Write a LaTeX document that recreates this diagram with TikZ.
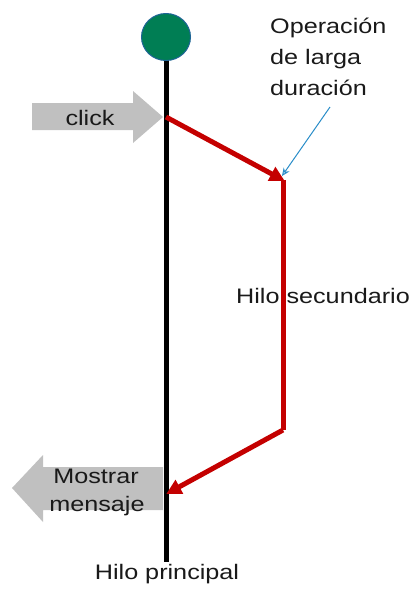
\documentclass[tikz,border=0pt]{standalone}
\usepackage{fontspec}
\setmainfont{Liberation Sans}[FakeStretch=1.2]
\usetikzlibrary{arrows.meta,shapes.geometric}
\definecolor{threadred}{RGB}{196,0,0}
\definecolor{btngray}{RGB}{192,192,192}
\definecolor{startgreen}{RGB}{0,126,84}
\definecolor{startedge}{RGB}{30,100,150}
\definecolor{noteblue}{RGB}{40,140,200}
\definecolor{txt}{RGB}{25,25,25}
\tikzset{
  lbl/.style={inner sep=0pt, text=txt, font=\fontsize{21}{31}\selectfont},
  mainline/.style={line width=5pt, black},
  redline/.style={line width=5pt, threadred},
  redarrow/.style={redline, -{Triangle[length=15pt,width=15pt]}, shorten >=-2pt},
  event/.style={fill=btngray, draw=none},
}
\begin{document}
\begin{tikzpicture}[x=1pt,y=-1pt]
\useasboundingbox (0,0) rectangle (415,590);

% named points along the two threads
\coordinate (top) at (166,58);
\coordinate (bottom) at (166,562);
\coordinate (fork) at (166,117);
\coordinate (sStart) at (283,180);
\coordinate (sEnd) at (283,430);
\coordinate (join) at (168,493);
\coordinate (noteTail) at (330,107);

% gray event arrows
\path[event] (32,103) -- (133,103) -- (133,91) -- (163,117) -- (133,143)
  -- (133,130) -- (32,130) -- cycle;
\path[event] (163,467) -- (43,467) -- (43,455) -- (12,488) -- (43,522)
  -- (43,510) -- (163,510) -- cycle;
\node[lbl, anchor=base] (click) at (90,125) {click};
\node[lbl, anchor=base, align=center] (msg1) at (96,483) {Mostrar};
\node[lbl, anchor=base, align=center] (msg2) at (97,511) {mensaje};

% main thread
\draw[mainline] (top) -- (bottom);

% secondary thread
\draw[redarrow] (fork) -- (sStart);
\draw[redline] (sStart) -- (sEnd);
\draw[redarrow] (sEnd) -- (join);

% start marker
\node[ellipse, minimum width=49pt, minimum height=47pt, inner sep=0pt,
      fill=startgreen, draw=startedge, line width=1pt] (start) at (166,37) {};

% labels
\node[lbl, anchor=base west] (op1) at (270,33) {Operación};
\node[lbl, anchor=base west] (op2) at (270,64) {de larga};
\node[lbl, anchor=base west] (op3) at (270,95) {duración};
\draw[noteblue, line width=1pt, -{Stealth[length=8pt,width=7pt,open]}] (noteTail) -- (282,176);
\node[lbl, anchor=base] (sec) at (323,303) {Hilo secundario};
\node[lbl, anchor=base] (main) at (167,579) {Hilo principal};
\end{tikzpicture}
\end{document}
